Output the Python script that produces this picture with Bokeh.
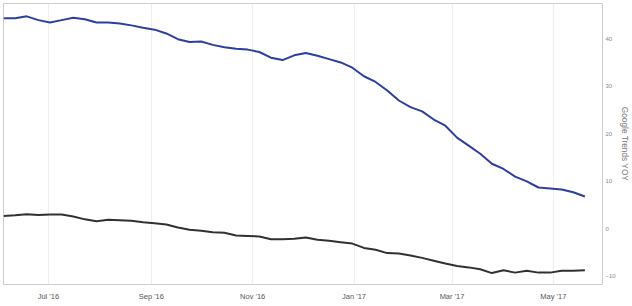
import pandas as pd
from bokeh.plotting import figure
from bokeh.models import FixedTicker, Range1d, DatetimeTickFormatter, ColumnDataSource
from bokeh.embed import file_html
from bokeh.resources import INLINE

# ---- data ----
start_date = "2016-06-04"
n_weeks = 51
blue_values = [44.3, 44.3, 44.7, 43.9, 43.4, 43.9, 44.4, 44.1, 43.4, 43.4,
               43.2, 42.8, 42.3, 41.9, 41.1, 39.9, 39.3, 39.4, 38.7, 38.2,
               37.9, 37.7, 37.2, 36.0, 35.5, 36.5, 37.0, 36.4, 35.7, 35.0,
               33.9, 32.1, 30.9, 29.1, 27.0, 25.6, 24.7, 23.0, 21.7, 19.2,
               17.5, 15.8, 13.7, 12.6, 11.0, 10.0, 8.7, 8.5, 8.3, 7.7, 6.8]
black_values = [2.7, 2.85, 3.1, 2.9, 3.0, 3.0, 2.6, 2.0, 1.6, 1.9,
                1.8, 1.7, 1.4, 1.2, 0.9, 0.3, -0.2, -0.4, -0.7, -0.8,
                -1.4, -1.5, -1.6, -2.2, -2.2, -2.1, -1.8, -2.3, -2.5, -2.8,
                -3.1, -4.0, -4.4, -5.1, -5.2, -5.6, -6.1, -6.7, -7.3, -7.8,
                -8.1, -8.5, -9.3, -8.7, -9.2, -8.8, -9.2, -9.2, -8.8, -8.8, -8.7]
x_tick_dates = ["2016-07-01", "2016-09-01", "2016-11-01",
                "2017-01-01", "2017-03-01", "2017-05-01"]
x_tick_labels = ["Jul '16", "Sep '16", "Nov '16", "Jan '17", "Mar '17", "May '17"]
y_ticks = [-10, 0, 10, 20, 30, 40]
y_axis_title = "Google Trends YOY"

dates = pd.date_range(start_date, periods=n_weeks, freq="7D")
src = ColumnDataSource(dict(x=dates, blue=blue_values, black=black_values))

x_start = pd.Timestamp(start_date)
x_end = pd.Timestamp("2017-05-30 14:00")

p = figure(width=632, height=306, x_axis_type="datetime", y_axis_location="right",
           output_backend="svg", toolbar_location=None,
           x_range=Range1d(x_start, x_end), y_range=Range1d(-11.7, 47.4),
           min_border_left=3, min_border_top=3, min_border_right=25, min_border_bottom=22)

p.line("x", "black", source=src, line_color="#2e3236", line_width=2)
p.line("x", "blue", source=src, line_color="#2b3f9e", line_width=2)

p.outline_line_color = "#cccccc"
p.outline_line_width = 1
p.background_fill_color = "white"
p.border_fill_color = "white"

tick_ms = [int(pd.Timestamp(d).value // 10**6) for d in x_tick_dates]
p.xaxis.ticker = FixedTicker(ticks=tick_ms)
fmt = "%b '%y"
p.xaxis.formatter = DatetimeTickFormatter(milliseconds=fmt, seconds=fmt, minsec=fmt, minutes=fmt,
                                          hourmin=fmt, hours=fmt, days=fmt, months=fmt, years=fmt)
p.xaxis.major_label_overrides = dict(zip(tick_ms, x_tick_labels))
p.xaxis.axis_line_color = None
p.xaxis.major_tick_line_color = None
p.xaxis.minor_tick_line_color = None
p.xaxis.major_tick_out = 0
p.xaxis.major_tick_in = 0
p.xaxis.minor_tick_out = 0
p.xaxis.minor_tick_in = 0
p.xaxis.major_label_text_font = "Liberation Sans"
p.xaxis.major_label_text_font_size = "7.5px"
p.xaxis.major_label_text_color = "#555555"
p.xaxis.major_label_standoff = 7

p.yaxis.ticker = FixedTicker(ticks=y_ticks)
p.yaxis.axis_line_color = None
p.yaxis.major_tick_line_color = None
p.yaxis.minor_tick_line_color = None
p.yaxis.major_tick_out = 0
p.yaxis.major_tick_in = 0
p.yaxis.minor_tick_out = 0
p.yaxis.minor_tick_in = 0
p.yaxis.major_label_text_font = "Liberation Sans"
p.yaxis.major_label_text_font_size = "6px"
p.yaxis.major_label_text_color = "#888888"
p.yaxis.major_label_standoff = 3
p.yaxis.axis_label = y_axis_title
p.yaxis.axis_label_text_font = "Liberation Sans"
p.yaxis.axis_label_text_font_style = "normal"
p.yaxis.axis_label_text_font_size = "8.3px"
p.yaxis.axis_label_text_color = "#777777"
p.yaxis.axis_label_standoff = 1

p.xgrid.grid_line_color = "#eeeeee"
p.xgrid.grid_line_width = 1
p.ygrid.grid_line_color = None

open("out.html", "w").write(file_html(p, INLINE))
